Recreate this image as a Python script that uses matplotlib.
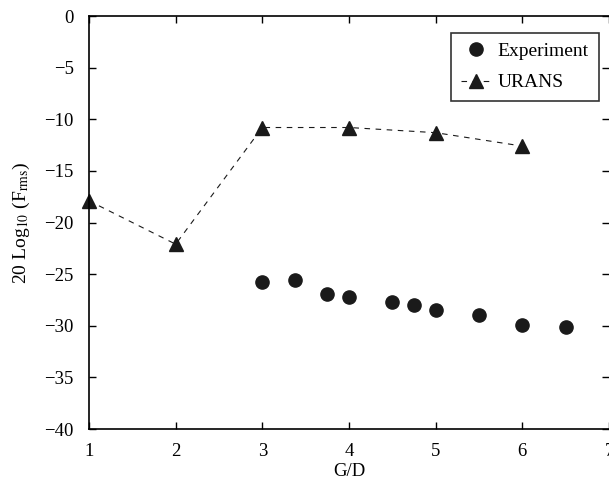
import matplotlib.pyplot as plt

plt.rcParams['font.family'] = ['Liberation Serif', 'DejaVu Serif']
plt.rcParams['mathtext.fontset'] = 'stix'

# measured force fluctuation vs gap ratio
exp_gd = [3.0, 3.375, 3.75, 4.0, 4.5, 4.75, 5.0, 5.5, 6.0, 6.5]
exp_level = [-25.8, -25.6, -26.9, -27.2, -27.7, -28.0, -28.5, -29.0, -29.9, -30.1]

# URANS predictions
urans_gd = [1, 2, 3, 4, 5, 6]
urans_level = [-17.9, -22.1, -10.8, -10.8, -11.3, -12.6]

fig = plt.figure(figsize=(6.09, 4.86), dpi=100)
ax = fig.add_axes([89 / 609, 57 / 486, 520 / 609, 413 / 486])

ax.plot(exp_gd, exp_level, 'o', color='#1a1a1a', markersize=9.5,
        linestyle='none', label='Experiment')
ax.plot(urans_gd, urans_level, '^', color='#1a1a1a', markersize=10,
        linestyle=(0, (5, 5)), linewidth=0.8, label='URANS', clip_on=False)

ax.set_xlim(1, 7)
ax.set_ylim(-40, 0)
ax.set_xticks(range(1, 8))
ax.set_yticks(range(-40, 1, 5))
ax.set_yticklabels(['\u2212%d' % -v if v else '0' for v in range(-40, 1, 5)])

ax.tick_params(direction='in', top=True, right=True, length=5, width=1,
               labelsize=13.5)
ax.tick_params(axis='y', pad=11)
ax.tick_params(axis='x', pad=10)
for side in ['left', 'bottom', 'top']:
    ax.spines[side].set_linewidth(1.2)
ax.spines['right'].set_visible(False)

ax.set_xlabel('G/D', fontsize=13.5, labelpad=2)
ax.set_ylabel(r'20 Log$_{10}$ (F$_{\mathrm{rms}}$)', fontsize=14, labelpad=9)

leg = ax.legend(loc='upper right', bbox_to_anchor=(0.98, 0.959), fontsize=14,
                frameon=True, fancybox=False, handlelength=1.6,
                handletextpad=0.3, borderpad=0.5, labelspacing=0.7,
                borderaxespad=0)
leg.get_frame().set_edgecolor('black')
leg.get_frame().set_linewidth(1.2)

fig.savefig('out.png', dpi=100)
